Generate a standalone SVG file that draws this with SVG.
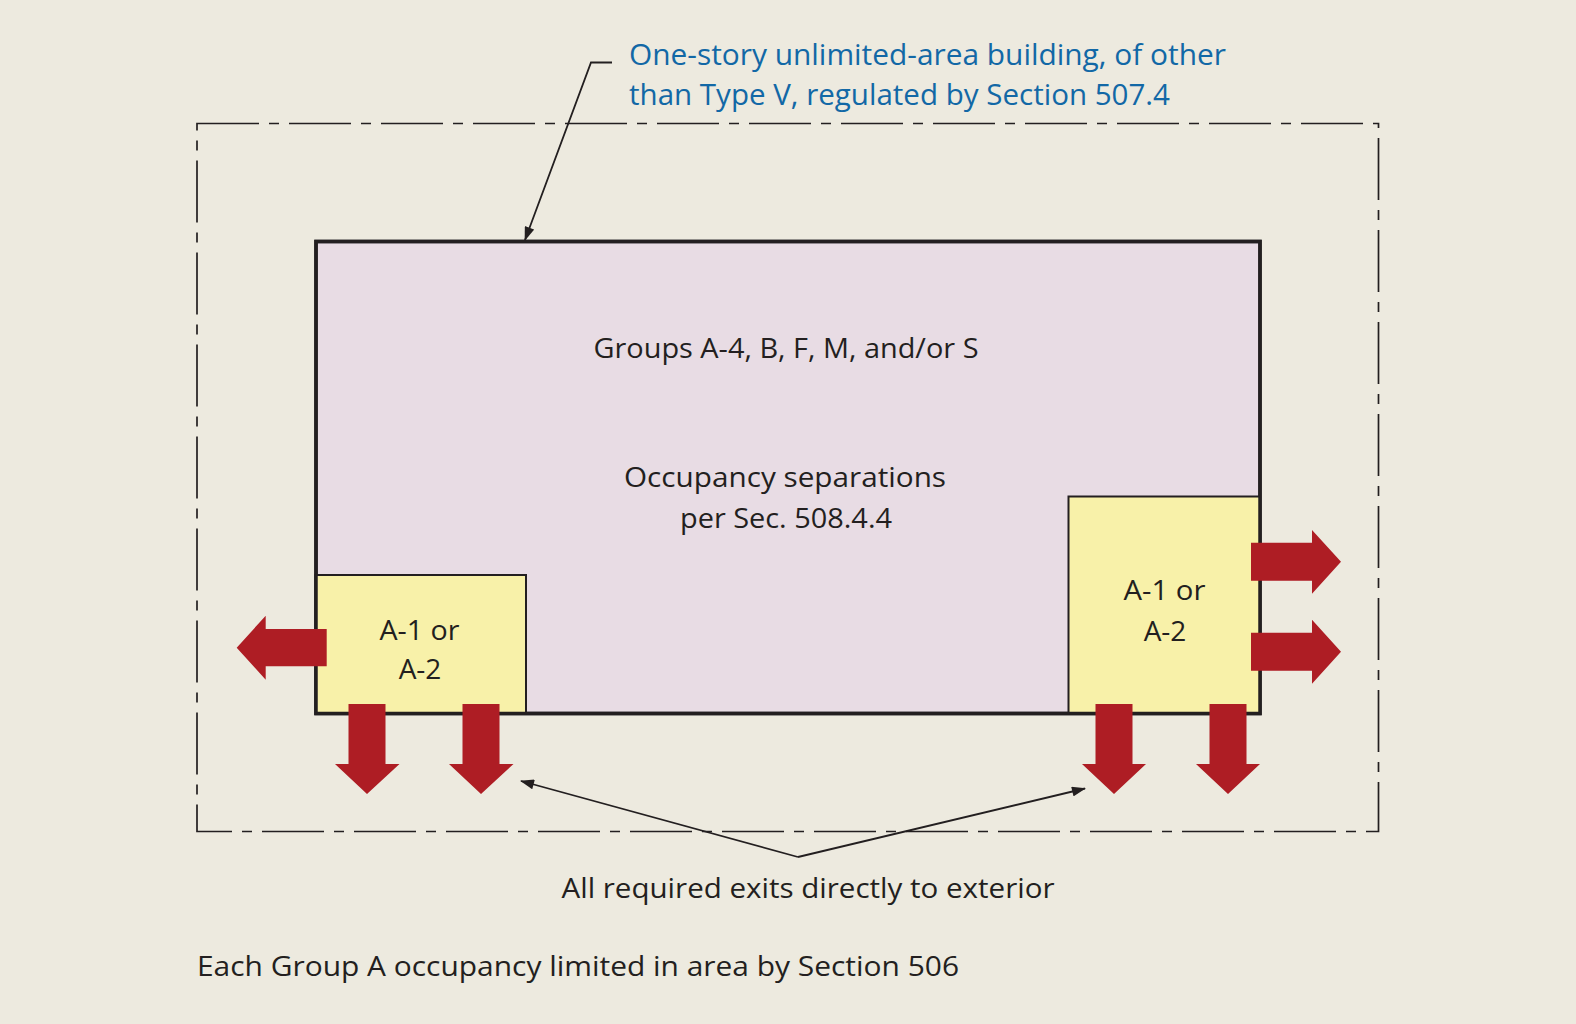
<svg xmlns="http://www.w3.org/2000/svg" width="1576" height="1024" viewBox="0 0 1576 1024">
<defs>
<style>
.t{font-family:"Open Sans","Liberation Sans",sans-serif;font-size:28px;fill:#231F20}
.b{font-family:"Open Sans","Liberation Sans",sans-serif;font-size:29px;fill:#1268A6}
.ex{fill:#AE1D24}
.ln{stroke:#231F20;stroke-width:1.8;fill:none}
</style>
<marker id="ah" viewBox="0 0 14 10" refX="13" refY="5" markerWidth="15" markerHeight="10" markerUnits="userSpaceOnUse" orient="auto">
<path d="M0,0 L14,5 L0,10 Z" fill="#231F20"/>
</marker>
</defs>
<rect width="1576" height="1024" fill="#EDEADF"/>
<g id="site-boundary">
<rect x="197" y="123.5" width="1181.5" height="708" fill="none" stroke="#231F20" stroke-width="1.7" stroke-dasharray="62 10 10 10"/>
</g>
<g id="building">
<rect x="316" y="241.5" width="944" height="472" fill="#E8DCE4" stroke="#231F20" stroke-width="3.5"/>
<text class="t" x="786" y="358" text-anchor="middle" textLength="385" lengthAdjust="spacingAndGlyphs">Groups A-4, B, F, M, and/or S</text>
<text class="t" x="785" y="487" text-anchor="middle" textLength="322" lengthAdjust="spacingAndGlyphs">Occupancy separations</text>
<text class="t" x="786" y="528" text-anchor="middle" textLength="212" lengthAdjust="spacingAndGlyphs">per Sec. 508.4.4</text>
</g>
<g id="assembly-left">
<rect x="315.5" y="575" width="210.5" height="138.5" fill="#F8F1A9" stroke="#231F20" stroke-width="2"/>
<text class="t" x="419.5" y="639.5" text-anchor="middle" textLength="80" lengthAdjust="spacingAndGlyphs">A-1 or</text>
<text class="t" x="420" y="679" text-anchor="middle">A-2</text>
</g>
<g id="assembly-right">
<rect x="1068.5" y="496.5" width="191.5" height="217" fill="#F8F1A9" stroke="#231F20" stroke-width="2"/>
<text class="t" x="1164.5" y="600" text-anchor="middle" textLength="82" lengthAdjust="spacingAndGlyphs">A-1 or</text>
<text class="t" x="1165" y="640.5" text-anchor="middle">A-2</text>
</g>
<g id="building-outline">
<path d="M316,241.5 H1260 V713.5 H316 Z" fill="none" stroke="#231F20" stroke-width="3.5"/>
</g>
<g id="exit-arrows">
<polygon class="ex" points="326.7,629 265.7,629 265.7,615.7 236.7,647.7 265.7,679.7 265.7,666.3 326.7,666.3"/>
<polygon class="ex" points="348.5,704 385.5,704 385.5,764 399.5,764 367,794 335,764 348.5,764"/>
<polygon class="ex" points="462.5,704 499.5,704 499.5,764 513.5,764 481,794 449,764 462.5,764"/>
<polygon class="ex" points="1095.5,704 1132.5,704 1132.5,764 1146,764 1114,794 1082,764 1095.5,764"/>
<polygon class="ex" points="1209.5,704 1246.5,704 1246.5,764 1260,764 1228,794 1196,764 1209.5,764"/>
<polygon class="ex" points="1251,542.7 1312,542.7 1312,530 1341,561.7 1312,593.7 1312,580.7 1251,580.7"/>
<polygon class="ex" points="1251,632.7 1312,632.7 1312,619.7 1341,651.7 1312,683.7 1312,670.7 1251,670.7"/>
</g>
<g id="connectors">
<path class="ln" d="M612,62.5 H591 L525,240" marker-end="url(#ah)"/>
<path class="ln" d="M798,857 L521,781" marker-end="url(#ah)"/>
<path class="ln" d="M798,857 L1085,788.5" marker-end="url(#ah)"/>
</g>
<g id="labels">
<text class="b" x="629" y="64.5" textLength="597" lengthAdjust="spacingAndGlyphs">One-story unlimited-area building, of other</text>
<text class="b" x="629" y="104.5" textLength="541" lengthAdjust="spacingAndGlyphs">than Type V, regulated by Section 507.4</text>
<text class="t" x="808" y="898" text-anchor="middle" textLength="493" lengthAdjust="spacingAndGlyphs">All required exits directly to exterior</text>
<text class="t" x="197" y="976" textLength="762" lengthAdjust="spacingAndGlyphs">Each Group A occupancy limited in area by Section 506</text>
</g>
</svg>
